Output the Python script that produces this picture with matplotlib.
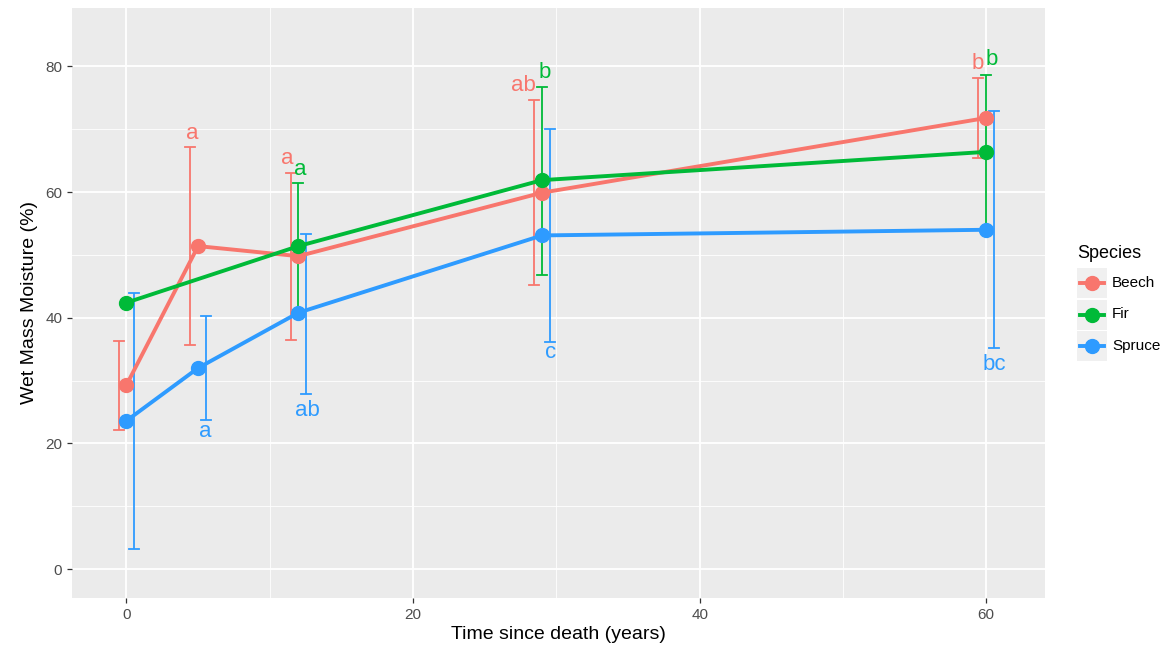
import matplotlib
matplotlib.use("Agg")
import matplotlib.pyplot as plt
from matplotlib.ticker import MultipleLocator
from matplotlib.lines import Line2D
from matplotlib.patches import Rectangle

plt.rcParams['font.family'] = ['Liberation Sans', 'DejaVu Sans']

species = ["Beech", "Fir", "Spruce"]
colors = {"Beech": "#F8766D", "Fir": "#00BA38", "Spruce": "#2E9BFF"}

# time since death (years)
years = {
    "Beech": [0, 5, 12, 29, 60],
    "Fir": [0, 12, 29, 60],
    "Spruce": [0, 5, 12, 29, 60],
}
means = {
    "Beech": [29.3, 51.4, 49.8, 59.9, 71.8],
    "Fir": [42.4, 51.4, 61.9, 66.4],
    "Spruce": [23.6, 32.0, 40.8, 53.1, 54.0],
}
# error bar lower / upper (None = no error bar)
lower = {
    "Beech": [22.2, 35.6, 36.4, 45.2, 65.4],
    "Fir": [None, 41.2, 46.8, 54.3],
    "Spruce": [3.2, 23.7, 27.9, 36.2, 35.2],
}
upper = {
    "Beech": [36.3, 67.2, 63.1, 74.7, 78.2],
    "Fir": [None, 61.5, 76.8, 78.6],
    "Spruce": [44.0, 40.3, 53.3, 70.1, 72.9],
}
# significance letters: (x, y, text)
letters = {
    "Beech": [(4.6, 69.3, "a"), (11.2, 65.3, "a"), (27.7, 76.9, "ab"), (59.4, 80.4, "b")],
    "Fir": [(12.1, 63.6, "a"), (29.2, 79.0, "b"), (60.4, 81.1, "b")],
    "Spruce": [(5.5, 21.9, "a"), (12.6, 25.3, "ab"), (29.6, 34.4, "c"), (60.6, 32.5, "bc")],
}
dodge = {"Beech": -0.55, "Fir": 0.0, "Spruce": 0.55}

W, H = 1171, 648
fig = plt.figure(figsize=(W / 100, H / 100), dpi=100)
ax = fig.add_axes([0.0615, 0.0772, 0.8309, 0.9105])
ax.set_facecolor("#EBEBEB")

for sp in species:
    c = colors[sp]
    for x, lo, hi in zip(years[sp], lower[sp], upper[sp]):
        if lo is None:
            continue
        xd = x + dodge[sp]
        ax.plot([xd, xd], [lo, hi], color=c, lw=1.3, zorder=3, solid_capstyle='butt')
        ax.plot([xd - 0.35, xd + 0.35], [lo, lo], color=c, lw=1.3, zorder=3)
        ax.plot([xd - 0.35, xd + 0.35], [hi, hi], color=c, lw=1.3, zorder=3)

for sp in species:
    c = colors[sp]
    ax.plot(years[sp], means[sp], color=c, lw=2.8, marker='o', markersize=10,
            label=sp, zorder=4, solid_capstyle='butt')

for sp in species:
    for x, y, t in letters[sp]:
        ax.text(x, y, t, color=colors[sp], fontsize=16, ha='center', va='center', zorder=5)

ax.set_xlim(-3.8, 64.1)
ax.set_ylim(-4.6, 89.3)
ax.xaxis.set_major_locator(MultipleLocator(20))
ax.xaxis.set_minor_locator(MultipleLocator(10))
ax.yaxis.set_major_locator(MultipleLocator(20))
ax.yaxis.set_minor_locator(MultipleLocator(10))
ax.grid(which='major', color='white', lw=1.3)
ax.grid(which='minor', color='white', lw=0.6)
ax.set_axisbelow(True)
for s in ax.spines.values():
    s.set_visible(False)
ax.tick_params(which='major', length=3.5, width=0.9, color='#333333',
               labelcolor='#4D4D4D', labelsize=11)
ax.tick_params(which='minor', length=0)
ax.set_xlabel("Time since death (years)", fontsize=14, color='black', labelpad=3)
ax.set_ylabel("Wet Mass Moisture (%)", fontsize=14, color='black', labelpad=5)

# legend drawn in figure pixel coordinates
def fx(px):
    return px / W

def fy(py):
    return 1 - py / H

fig.text(fx(1077), fy(253), "Species", fontsize=13, ha='left', va='center')
for i, sp in enumerate(species):
    top = 268 + i * 31.5
    fig.add_artist(Rectangle((fx(1077), fy(top + 30)), fx(30), 30 / H,
                             transform=fig.transFigure, facecolor='#F0F0F0',
                             edgecolor='none'))
    cy = top + 15
    fig.add_artist(Line2D([fx(1080), fx(1104)], [fy(cy), fy(cy)], color=colors[sp],
                          lw=2.8, transform=fig.transFigure))
    fig.add_artist(Line2D([fx(1092)], [fy(cy)], color=colors[sp], marker='o',
                          markersize=10, transform=fig.transFigure))
    fig.text(fx(1112), fy(cy), sp, fontsize=11, ha='left', va='center')

fig.savefig("out.png", dpi=100)
